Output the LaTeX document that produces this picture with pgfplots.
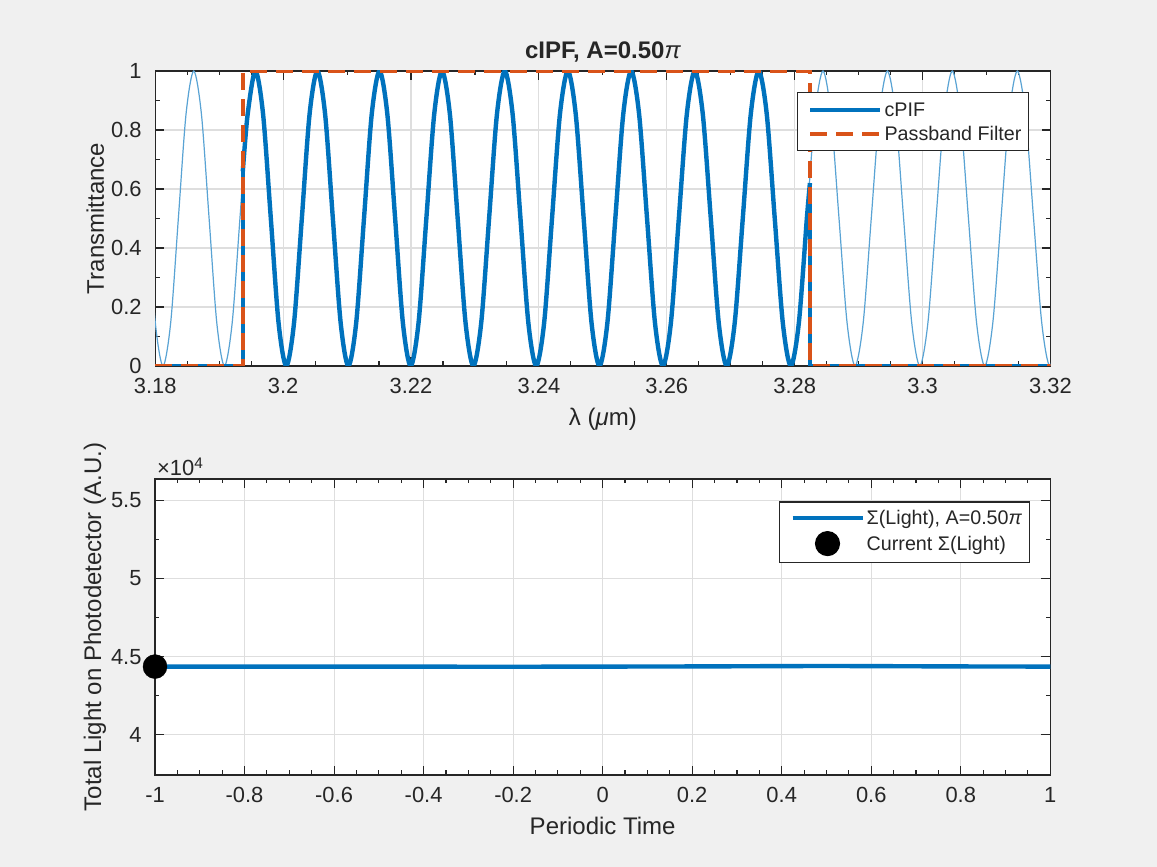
\documentclass[border=0pt]{standalone}
\usepackage{pgfplots}
\pgfplotsset{compat=1.18}
\usepackage{fontspec}
\setmainfont{Liberation Sans}
\definecolor{mblue}{HTML}{0072BD}
\definecolor{morange}{HTML}{D95319}
\definecolor{mtext}{HTML}{262626}
\definecolor{mgrid}{HTML}{DEDEDE}
\definecolor{mbg}{HTML}{F0F0F0}
\pgfplotsset{
  mstyle/.style={
    scale only axis,
    width=895.3pt,
    axis background/.style={fill=white},
    axis line style={mtext, line width=1.1pt},
    every tick/.style={mtext, line width=1.1pt},
    major tick length=9pt,
    minor tick length=4.5pt,
    tick align=inside,
    grid=major,
    major grid style={mgrid, line width=1.1pt},
    tick label style={font=\fontsize{21.9}{26}\selectfont, text=mtext},
    xticklabel style={yshift=-9pt},
    yticklabel style={xshift=-10pt},
    label style={font=\fontsize{24}{28}\selectfont, text=mtext},
    /pgf/number format/assume math mode=true,
    legend cell align=left,
    legend image code/.code={\path (-6pt,0pt); \draw[##1] (0pt,0pt) -- (70pt,0pt);},
    legend style={draw=mtext, line width=1.1pt, fill=white,
      font=\fontsize{19.7}{23}\selectfont, text=mtext,
      inner xsep=5pt, inner ysep=7pt, row sep=4pt,
      cells={anchor=west, text height=14.5pt, text depth=4.5pt, inner ysep=3pt, inner xsep=3pt}},
  }
}
\begin{document}
\begin{tikzpicture}
\fill[mbg] (0,0) rectangle (1157pt,867pt);
% ---------------- top axes ----------------
\begin{axis}[mstyle, at={(155.2pt,501pt)}, anchor=south west, height=295pt,
  xmin=3.18, xmax=3.32, ymin=0, ymax=1,
  xtick={3.18,3.2,3.22,3.24,3.26,3.28,3.3,3.32},
  ytick={0,0.2,0.4,0.6,0.8,1},
  minor x tick num=3, minor y tick num=1,
  title={cIPF, A=0.50{\mdseries\itshape π}},
  title style={at={(axis description cs:0.5,1.044)}, anchor=center,
    font=\bfseries\fontsize{24}{28}\selectfont, text=mtext},
  xlabel={λ (\textit{μ}m)},
  ylabel={Transmittance},
  xlabel style={at={(axis description cs:0.5,-0.18)}, anchor=center},
  ylabel style={at={(axis description cs:-0.067,0.5)}, anchor=center},
  legend style={at={(rel axis cs:0.976,0.928)}, anchor=north east},
]
% full cPIF (thin)
\addplot[mblue!65, line width=1.2pt, smooth, forget plot] coordinates {
(3.17882,0.5) (3.18002,0.1464)
(3.18122,0) (3.18242,0.1464) (3.18362,0.5) (3.18482,0.8536) (3.18603,1) (3.18723,0.8536) (3.18843,0.5) (3.18963,0.1464)
(3.19083,0) (3.19204,0.1464) (3.19325,0.5) (3.19446,0.8536) (3.19567,1) (3.19687,0.8536) (3.19808,0.5) (3.19929,0.1464)
(3.20050,0) (3.20171,0.1464) (3.20293,0.5) (3.20414,0.8536) (3.20536,1) (3.20657,0.8536) (3.20778,0.5) (3.20900,0.1464)
(3.21021,0) (3.21143,0.1464) (3.21265,0.5) (3.21386,0.8536) (3.21508,1) (3.21630,0.8536) (3.21752,0.5) (3.21873,0.1464)
(3.21995,0) (3.22118,0.1464) (3.22240,0.5) (3.22363,0.8536) (3.22485,1) (3.22608,0.8536) (3.22730,0.5) (3.22853,0.1464)
(3.22975,0) (3.23098,0.1464) (3.23221,0.5) (3.23344,0.8536) (3.23467,1) (3.23589,0.8536) (3.23712,0.5) (3.23835,0.1464)
(3.23958,0) (3.24082,0.1464) (3.24205,0.5) (3.24329,0.8536) (3.24453,1) (3.24576,0.8536) (3.24700,0.5) (3.24823,0.1464)
(3.24947,0) (3.25071,0.1464) (3.25195,0.5) (3.25319,0.8536) (3.25443,1) (3.25567,0.8536) (3.25691,0.5) (3.25815,0.1464)
(3.25939,0) (3.26064,0.1464) (3.26188,0.5) (3.26313,0.8536) (3.26438,1) (3.26563,0.8536) (3.26688,0.5) (3.26812,0.1464)
(3.26937,0) (3.27062,0.1464) (3.27188,0.5) (3.27313,0.8536) (3.27438,1) (3.27563,0.8536) (3.27688,0.5) (3.27814,0.1464)
(3.27939,0) (3.28065,0.1464) (3.28190,0.5) (3.28316,0.8536) (3.28442,1) (3.28567,0.8536) (3.28693,0.5) (3.28819,0.1464)
(3.28944,0) (3.29071,0.1464) (3.29197,0.5) (3.29324,0.8536) (3.29450,1) (3.29577,0.8536) (3.29703,0.5) (3.29830,0.1464)
(3.29956,0) (3.30083,0.1464) (3.30210,0.5) (3.30337,0.8536) (3.30464,1) (3.30590,0.8536) (3.30717,0.5) (3.30844,0.1464)
(3.30971,0) (3.31098,0.1464) (3.31226,0.5) (3.31353,0.8536) (3.31481,1) (3.31608,0.8536) (3.31735,0.5) (3.31863,0.1464)
(3.31990,0) (3.32117,0.1464)
};
% filtered cPIF (thick) - passband part
\addplot[mblue, line width=4.4pt, smooth, line join=round] coordinates {
(3.19370,0.66) (3.19446,0.8536) (3.19567,1) (3.19687,0.8536) (3.19808,0.5) (3.19929,0.1464)
(3.20050,0) (3.20171,0.1464) (3.20293,0.5) (3.20414,0.8536) (3.20536,1) (3.20657,0.8536) (3.20778,0.5) (3.20900,0.1464)
(3.21021,0) (3.21143,0.1464) (3.21265,0.5) (3.21386,0.8536) (3.21508,1) (3.21630,0.8536) (3.21752,0.5) (3.21873,0.1464)
(3.21995,0) (3.22118,0.1464) (3.22240,0.5) (3.22363,0.8536) (3.22485,1) (3.22608,0.8536) (3.22730,0.5) (3.22853,0.1464)
(3.22975,0) (3.23098,0.1464) (3.23221,0.5) (3.23344,0.8536) (3.23467,1) (3.23589,0.8536) (3.23712,0.5) (3.23835,0.1464)
(3.23958,0) (3.24082,0.1464) (3.24205,0.5) (3.24329,0.8536) (3.24453,1) (3.24576,0.8536) (3.24700,0.5) (3.24823,0.1464)
(3.24947,0) (3.25071,0.1464) (3.25195,0.5) (3.25319,0.8536) (3.25443,1) (3.25567,0.8536) (3.25691,0.5) (3.25815,0.1464)
(3.25939,0) (3.26064,0.1464) (3.26188,0.5) (3.26313,0.8536) (3.26438,1) (3.26563,0.8536) (3.26688,0.5) (3.26812,0.1464)
(3.26937,0) (3.27062,0.1464) (3.27188,0.5) (3.27313,0.8536) (3.27438,1) (3.27563,0.8536) (3.27688,0.5) (3.27814,0.1464)
(3.27939,0) (3.28065,0.1464) (3.28190,0.5) (3.28238,0.62)
};
\addlegendentry{cPIF}
\addplot[mblue, line width=4.4pt, line join=round, forget plot] coordinates {
(3.18,0) (3.19370,0) (3.19370,0.66)
};
\addplot[mblue, line width=4.4pt, line join=round, forget plot] coordinates {
(3.28238,0.62) (3.28238,0) (3.32,0)
};
% passband filter
\addplot[morange, line width=4.4pt, dash pattern=on 17pt off 9pt] coordinates {
(3.18,0) (3.19370,0) (3.19370,1) (3.28238,1) (3.28238,0) (3.32,0)
};
\addlegendentry{Passband Filter}
\end{axis}
% ---------------- bottom axes ----------------
\begin{axis}[mstyle, at={(155pt,92pt)}, anchor=south west, height=296pt,
  xmin=-1, xmax=1, ymin=37420, ymax=56370,
  xtick={-1,-0.8,-0.6,-0.4,-0.2,0,0.2,0.4,0.6,0.8,1},
  ytick={40000,45000,50000,55000},
  yticklabels={4,4.5,5,5.5},
  scaled y ticks=false,
  minor x tick num=3, minor y tick num=1,
  clip=false,
  xlabel={Periodic Time},
  ylabel={Total Light on Photodetector (A.U.)},
  xlabel style={at={(axis description cs:0.5,-0.172)}, anchor=center},
  ylabel style={at={(axis description cs:-0.067,0.5)}, anchor=center},
  legend style={at={(rel axis cs:0.977,0.924)}, anchor=north east, inner ysep=6pt, row sep=3pt},
]
\addplot[mblue, line width=4.4pt] coordinates {
(-1,44360) (-0.6,44360) (-0.2,44350) (0.2,44370) (0.5,44400) (0.8,44370) (1,44360)
};
\addlegendentry{Σ(Light), A=0.50\textit{π}}
\addplot[only marks, mark=*, mark size=12pt, black,
  legend image code/.code={\path (-6pt,0pt); \path (70pt,0pt); \fill[black] (35pt,0pt) circle (12pt);}] coordinates {
(-1,44360)
};
\addlegendentry{Current Σ(Light)}
\node[anchor=south west, inner sep=0pt, xshift=2pt, yshift=3pt,
  font=\fontsize{21.9}{26}\selectfont, text=mtext] at (rel axis cs:0,1) {×10\textsuperscript{4}};
\end{axis}
\pgfresetboundingbox
\path[use as bounding box] (0,0) rectangle (1157pt,867pt);
\end{tikzpicture}
\end{document}
